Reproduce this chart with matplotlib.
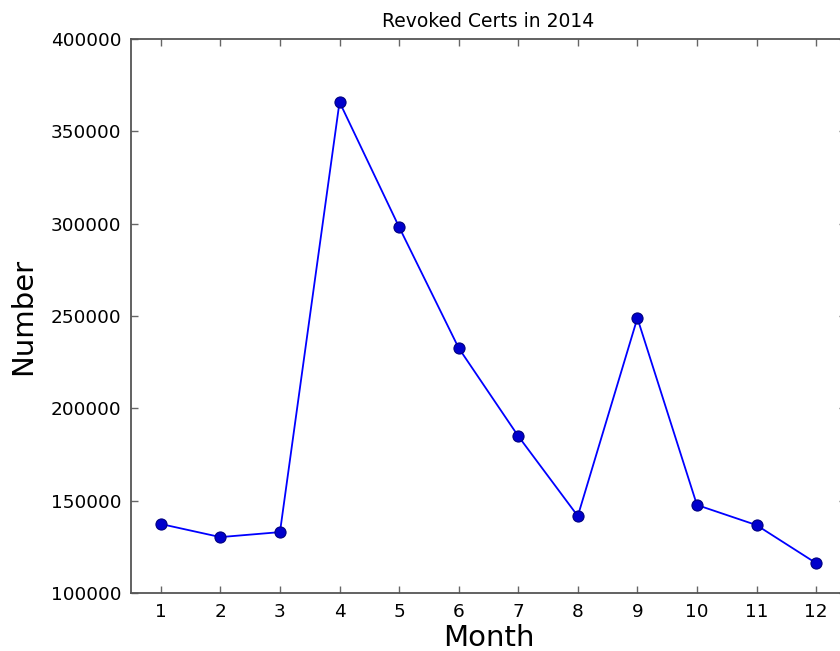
import matplotlib
matplotlib.use('Agg')
import matplotlib.pyplot as plt

months = [1, 2, 3, 4, 5, 6, 7, 8, 9, 10, 11, 12]
revoked = [137400, 130300, 133000, 365900, 298200, 232700,
           185000, 141700, 248900, 147700, 136800, 116200]

fig = plt.figure(figsize=(8.4, 6.51), dpi=100)
# axes runs slightly past the right edge, as in the reference crop
ax = fig.add_axes([0.156, 0.089, 0.851, 0.851])

ax.plot(months, revoked, '-', color='#0000ff', lw=1.3,
        marker='o', markersize=8, markerfacecolor='#0000cc',
        markeredgecolor='#000080', markeredgewidth=0.8)

ax.set_xlim(0.5, 12.5)
ax.set_ylim(100000, 400000)
ax.set_xticks(months)
ax.set_yticks(range(100000, 400001, 50000))
ax.tick_params(direction='in', length=5, width=1, labelsize=13.3,
               top=True, right=True, pad=7, color='#666666')

for s in ax.spines.values():
    s.set_color('#555555')
    s.set_linewidth(1.3)

ax.set_title('Revoked Certs in 2014', fontsize=13.5, pad=9)
ax.set_xlabel('Month', fontsize=21, labelpad=2)
ax.set_ylabel('Number', fontsize=21, labelpad=10)

fig.savefig('out.png', dpi=100)
